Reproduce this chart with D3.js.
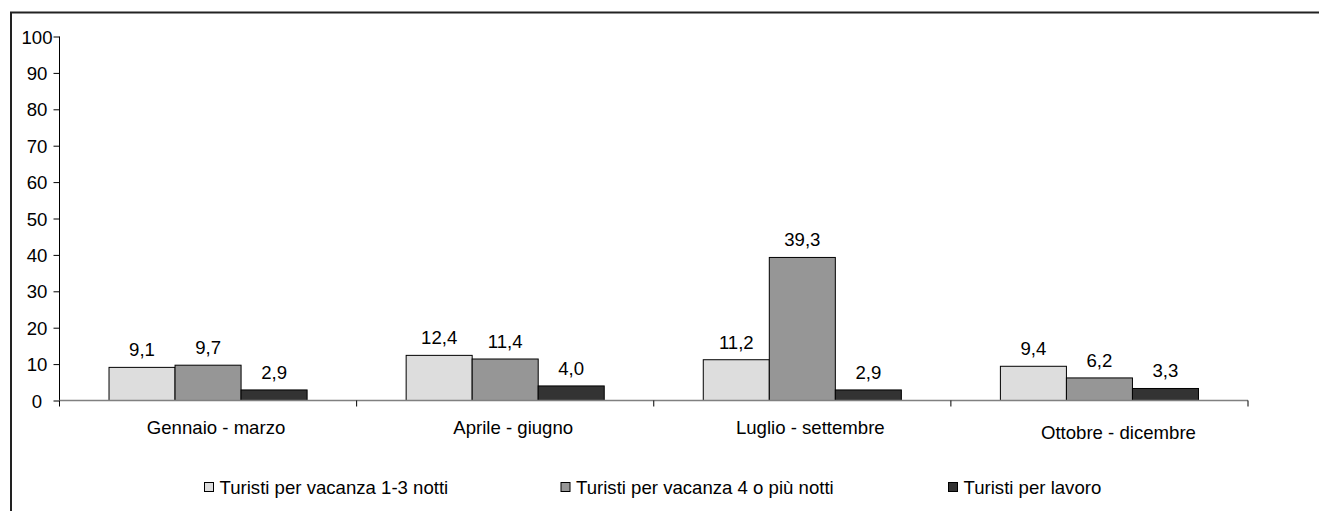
<!DOCTYPE html>
<html>
<head>
<meta charset="utf-8">
<script src="https://cdn.jsdelivr.net/npm/d3@7"></script>
<style>
  html, body { margin: 0; padding: 0; background: #fff; }
  svg { display: block; font-family: "Liberation Sans", Arial, sans-serif; }
</style>
</head>
<body>
<svg id="chart" width="1319" height="511"></svg>
<script>
// Periods of the year
const categories = ["Gennaio - marzo", "Aprile - giugno", "Luglio - settembre", "Ottobre - dicembre"];
// Series names
const seriesNames = ["Turisti per vacanza 1-3 notti", "Turisti per vacanza 4 o più notti", "Turisti per lavoro"];
// Values per series, one per period
const vacanzaBreve = [9.1, 12.4, 11.2, 9.4];
const vacanzaLunga = [9.7, 11.4, 39.3, 6.2];
const lavoro = [2.9, 4.0, 2.9, 3.3];
// Y axis tick values
const yTicks = [0, 10, 20, 30, 40, 50, 60, 70, 80, 90, 100];

const seriesValues = [vacanzaBreve, vacanzaLunga, lavoro];
const fills = ["#dddddd", "#969696", "#333333"];
const fmt = v => d3.format(".1f")(v).replace(".", ",");

const svg = d3.select("#chart");
const fontSize = 18.6;

// Outer frame
svg.append("rect")
  .attr("x", 11).attr("y", 12.5)
  .attr("width", 1400).attr("height", 600)
  .attr("fill", "none").attr("stroke", "#222").attr("stroke-width", 2);

const x0 = d3.scaleBand().domain(categories).range([59.5, 1248]).paddingInner(0).paddingOuter(0);
const x1 = d3.scaleBand().domain(d3.range(seriesNames.length))
  .range([0, x0.bandwidth()]).paddingInner(0).paddingOuter(0.75);
const y = d3.scaleLinear().domain([0, 100]).range([400.5, 36.5]);

// Y axis
const yAxis = svg.append("g").attr("transform", "translate(59.5,0)")
  .call(d3.axisLeft(y).tickValues(yTicks).tickSize(6).tickPadding(0).tickFormat(d3.format("d")));
yAxis.select(".domain").attr("stroke", "#000").attr("d", `M0,${y(100)}V${y(0)}`);
yAxis.selectAll(".tick line").attr("stroke", "#000");
yAxis.selectAll(".tick text")
  .attr("x", -22.5).attr("text-anchor", "middle").attr("dy", "0.35em")
  .attr("font-size", fontSize).attr("fill", "#000");

// Bars
const groups = svg.append("g").selectAll("g")
  .data(categories)
  .join("g")
  .attr("transform", d => `translate(${x0(d)},0)`);

groups.selectAll("rect")
  .data((c, i) => seriesValues.map((s, k) => ({ k, v: s[i] })))
  .join("rect")
  .attr("x", d => x1(d.k))
  .attr("y", d => y(d.v))
  .attr("width", x1.bandwidth())
  .attr("height", d => y(0) - y(d.v))
  .attr("fill", d => fills[d.k])
  .attr("stroke", "#000").attr("stroke-width", 1);

// Value labels
groups.selectAll("text")
  .data((c, i) => seriesValues.map((s, k) => ({ k, v: s[i] })))
  .join("text")
  .attr("x", d => x1(d.k) + x1.bandwidth() / 2)
  .attr("y", d => y(d.v) - 11)
  .attr("text-anchor", "middle")
  .attr("font-size", fontSize)
  .attr("fill", "#000")
  .text(d => fmt(d.v));

// X axis
const xAxis = svg.append("g").attr("transform", `translate(0,${y(0)})`);
xAxis.append("line")
  .attr("x1", 59.5).attr("x2", 1248).attr("y1", 0).attr("y2", 0)
  .attr("stroke", "#808080").attr("stroke-width", 1.5);
const boundaries = categories.map(c => x0(c)).concat([x0.range()[1]]);
xAxis.selectAll("line.tick")
  .data(boundaries)
  .join("line")
  .attr("class", "tick")
  .attr("x1", d => d).attr("x2", d => d)
  .attr("y1", 0).attr("y2", 6)
  .attr("stroke", "#000");

// Category labels (the last one sits a little lower and further right)
const labelShift = [[8, 0], [8, 0], [8, 0], [19, 5]];
xAxis.selectAll("text")
  .data(categories)
  .join("text")
  .attr("x", (d, i) => x0(d) + x0.bandwidth() / 2 + labelShift[i][0])
  .attr("y", (d, i) => 33 + labelShift[i][1])
  .attr("text-anchor", "middle")
  .attr("font-size", fontSize)
  .attr("fill", "#000")
  .text(d => d);

// Legend
const legendX = [204, 560.5, 948];
const legend = svg.append("g").selectAll("g")
  .data(seriesNames)
  .join("g")
  .attr("transform", (d, i) => `translate(${legendX[i]},0)`);
legend.append("rect")
  .attr("x", 0.5).attr("y", 482.5).attr("width", 9).attr("height", 9)
  .attr("fill", (d, i) => fills[i]).attr("stroke", "#000");
legend.append("text")
  .attr("x", 15.5).attr("y", 494)
  .attr("font-size", fontSize)
  .attr("fill", "#000")
  .text(d => d);
</script>
</body>
</html>
